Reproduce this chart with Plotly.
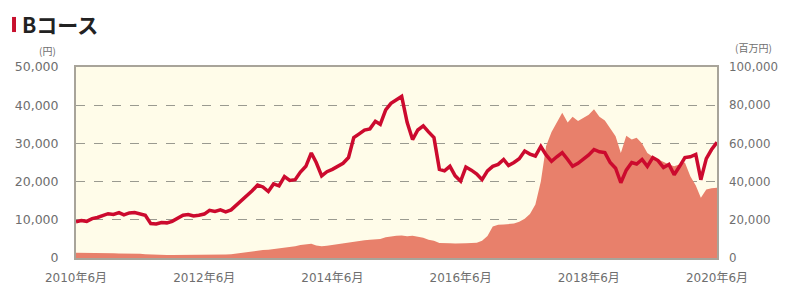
import plotly.graph_objects as go
import pandas as pd

# Monthly dates 2010-06 .. 2020-06
dates = pd.date_range("2010-06-01", "2020-06-01", freq="MS")

# 基準価額 (円) - left axis
price = [
    9500, 9800, 9600, 10300, 10600, 11000, 11600,
    11400, 11900, 11300, 11800, 11900, 11600, 11200, 9000, 8900, 9300, 9200, 9600,
    10300, 11200, 11400, 11000, 11200, 11500, 12500, 12200, 12600, 12100, 12600, 13800,
    15200, 16300, 17600, 19100, 18600, 17400, 19400, 18900, 21300, 20300, 20500, 22500,
    24000, 27500, 25000, 21500, 22600, 23200, 24000, 24800, 26300, 31500, 32500, 33500,
    33800, 35800, 35000, 38800, 40500, 41500, 42300, 35500, 31000, 33500, 34600, 33000,
    31500, 23200, 22800, 24000, 21500, 20100, 23800, 23000, 22000, 20500, 22800, 24000,
    24500, 25800, 24200, 25000, 26000, 28000, 27200, 26700, 29200, 27000, 25300, 26500,
    27600, 25800, 24000, 24800, 25800, 27000, 28400, 27800, 27600, 25000, 23500, 19700,
    23000, 25000, 24600, 25800, 24000, 26300, 25500, 23700, 24500, 21800, 24000, 26300,
    26500, 27100, 20500, 26000, 28400, 30300,
]

# 純資産総額 (百万円) - right axis
assets = [
    2800, 2800, 2700, 2700, 2600, 2600, 2500,
    2500, 2400, 2400, 2300, 2300, 2200, 2000, 1800, 1700, 1700, 1600, 1600,
    1600, 1600, 1600, 1600, 1600, 1600, 1700, 1700, 1800, 1800, 2000, 2400,
    2800, 3200, 3500, 3900, 4200, 4300, 4600, 5000, 5400, 5800, 6200, 6800,
    7200, 7500, 6600, 6200, 6400, 6800, 7300, 7800, 8300, 8700, 9000, 9300,
    9500, 9800, 10000, 10800, 11300, 11600, 11800, 11400, 11600, 11200, 10600, 9600,
    9000, 7800, 7600, 7700, 7600, 7500, 7700, 7800, 8000, 9000, 11500, 16500,
    17400, 17600, 17800, 18000, 19000, 20500, 23000, 28000, 40000, 58600, 66000, 71000,
    76000, 71000, 74000, 71700, 73500, 75000, 77900, 74000, 72000, 68000, 63800, 55000,
    64000, 62000, 63000, 60000, 55000, 53000, 51600, 50500, 49000, 48000, 49000, 50000,
    42800, 38000, 31500, 35800, 36500, 36800,
]

tick_dates = ["2010-06-01", "2012-06-01", "2014-06-01", "2016-06-01", "2018-06-01", "2020-06-01"]
tick_text = ["2010年6月", "2012年6月", "2014年6月", "2016年6月", "2018年6月", "2020年6月"]
left_ticks = [0, 10000, 20000, 30000, 40000, 50000]
right_ticks = [0, 20000, 40000, 60000, 80000, 100000]

FONT = "DejaVu Sans, Noto Sans CJK JP"
CJK = "Noto Sans CJK JP"
TICK_COLOR = "#6E6E6E"
FRAME = "#A8A49A"
TS = 12.5

fig = go.Figure()
fig.add_trace(go.Scatter(
    x=dates, y=assets, yaxis="y", mode="lines",
    line=dict(width=0, color="#E8806B"), fill="tozeroy", fillcolor="#E8806B",
    hoverinfo="skip", showlegend=False,
))
fig.add_trace(go.Scatter(
    x=dates, y=price, yaxis="y2", mode="lines",
    line=dict(width=3.5, color="#CC0A2E"), showlegend=False,
))

# page body has an 8px default margin; size/margins compensate for it
fig.update_layout(
    width=779, height=279,
    margin=dict(l=68, r=70, t=59, b=29, autoexpand=False),
    paper_bgcolor="white",
    plot_bgcolor="#FFFCE9",
    font=dict(family=FONT, size=TS, color=TICK_COLOR),
    xaxis=dict(
        type="date", range=["2010-06-01", "2020-06-01"],
        tickvals=tick_dates, ticktext=tick_text,
        showgrid=False, zeroline=False,
        showline=True, linecolor=FRAME, linewidth=1.5, mirror=True,
        ticks="outside", ticklen=8, tickcolor="rgba(0,0,0,0)",
        tickfont=dict(size=12, color=TICK_COLOR),
        automargin=False,
    ),
    yaxis=dict(
        side="right", range=[0, 100000], tickvals=right_ticks,
        tickformat=",d",
        showgrid=True, gridcolor="#9A9A90", griddash="dash", gridwidth=1,
        zeroline=False,
        showline=True, linecolor=FRAME, linewidth=1.5, mirror=True,
        ticks="outside", ticklen=8, tickcolor="rgba(0,0,0,0)",
        tickfont=dict(size=11.8, color=TICK_COLOR),
        automargin=False,
    ),
    yaxis2=dict(
        side="left", overlaying="y", range=[0, 50000], tickvals=left_ticks,
        tickformat=",d",
        showgrid=False, zeroline=False,
        ticks="outside", ticklen=14, tickcolor="rgba(0,0,0,0)",
        tickfont=dict(size=TS, color=TICK_COLOR),
        automargin=False,
    ),
    shapes=[dict(
        type="rect", xref="paper", yref="paper",
        x0=-0.0998, x1=-0.0936, y0=1.183, y1=1.262,
        fillcolor="#C8102E", line=dict(width=0),
    )],
    annotations=[
        dict(text="<b>Bコース</b>", xref="paper", yref="paper",
             x=-0.087, y=1.225, xanchor="left", yanchor="middle",
             showarrow=False, font=dict(family=CJK, size=21, color="#222222")),
        dict(text="(円)", xref="paper", yref="paper",
             x=-0.028, y=1.089, xanchor="right", yanchor="middle",
             showarrow=False, font=dict(family=CJK, size=10, color=TICK_COLOR)),
        dict(text="(百万円)", xref="paper", yref="paper",
             x=1.025, y=1.10, xanchor="left", yanchor="middle",
             showarrow=False, font=dict(family=CJK, size=10, color=TICK_COLOR)),
    ],
)

fig.write_html("out.html")
